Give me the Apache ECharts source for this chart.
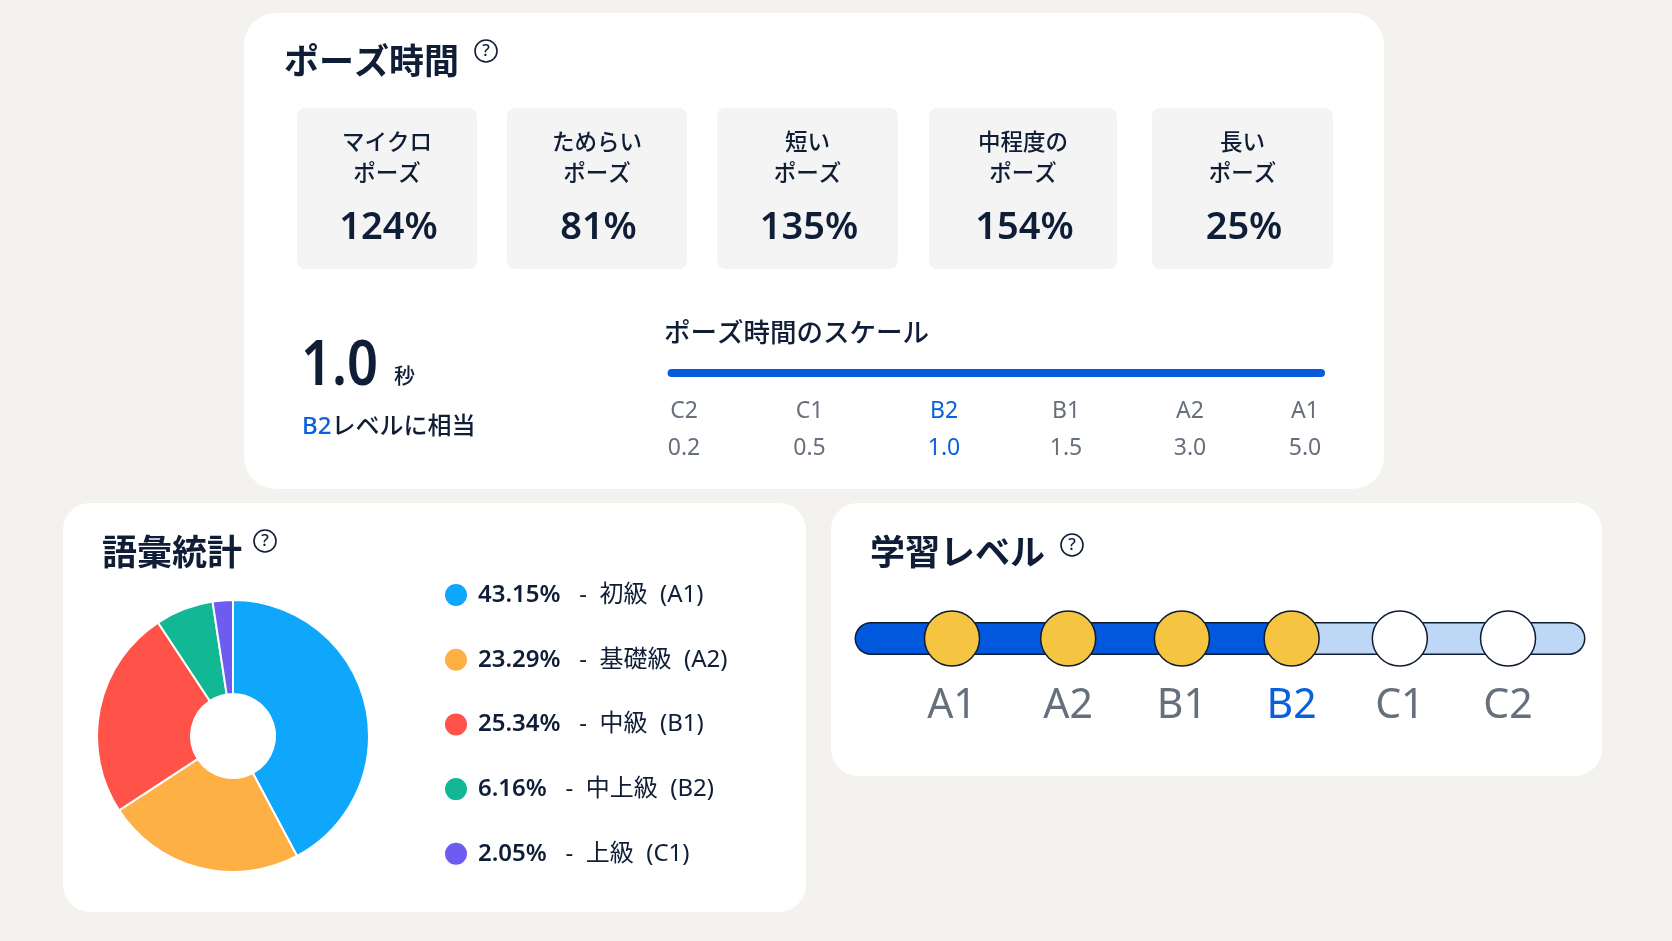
<!DOCTYPE html>
<html><head><meta charset="utf-8">
<style>html,body{margin:0;padding:0;background:#f4f2ef}#c{width:1672px;height:941px}</style>
<script src="https://cdn.jsdelivr.net/npm/echarts@6/dist/echarts.min.js"></script>
</head><body><div id="c"></div>
<script>
// ---- data ----
const pauseLabels = ['マイクロ\nポーズ','ためらい\nポーズ','短い\nポーズ','中程度の\nポーズ','長い\nポーズ'];
const pausePercents = ['124%','81%','135%','154%','25%'];
const pauseSeconds = '1.0';
const pauseLevel = 'B2';
const scaleLevels = ['C2','C1','B2','B1','A2','A1'];
const scaleSeconds = ['0.2','0.5','1.0','1.5','3.0','5.0'];
const vocabNames = ['初級 (A1)','基礎級 (A2)','中級 (B1)','中上級 (B2)','上級 (C1)'];
const vocabPercents = ['43.15','23.29','25.34','6.16','2.05'];   // as printed in the legend
const vocabSliceShares = [42.2,23.6,24.9,6.9,2.4];
const learnLevels = ['A1','A2','B1','B2','C1','C2'];
const reachedLevel = 'B2';

// ---- styling and layout ----
const FONT = '"Noto Sans","Noto Sans CJK JP",sans-serif';
const INK = '#0f1d36', GREY = '#66707c', BLUE = '#0a5fdc';
const vocabColors = ['#0ea7fb','#ffb044','#ff5249','#12b894','#6c5cf2'];
const scaleNudge = [0,1.5,12,10,10,1];
const learnNudge = [0,5,7.5,6,3,0];
const boxes = [[297,180],[507,180],[717,181],[929,188],[1152,181]];
const cards = [[244,13,1140,476,32],[63,503,743,409,27],[831,503,771,273,27]];
const helps = [[486,51],[265,541],[1072,545]];
const titles = [['ポーズ時間',284,64],['語彙統計',102,555],['学習レベル',870,555]];

const graphic = [];
cards.forEach(c => graphic.push({type:'rect',shape:{x:c[0],y:c[1],width:c[2],height:c[3],r:c[4]},style:{fill:'#fff'}}));
boxes.forEach((b,i) => {
  graphic.push({type:'rect',shape:{x:b[0],y:108,width:b[1],height:161,r:8},style:{fill:'#f4f4f4'}});
  graphic.push({type:'text',style:{text:pauseLabels[i],x:b[0]+b[1]/2,y:159.5,align:'center',verticalAlign:'middle',
    font:'500 22.5px '+FONT,fill:INK,lineHeight:31}});
  graphic.push({type:'text',style:{text:pausePercents[i],x:b[0]+b[1]/2+1.5,y:228,align:'center',verticalAlign:'middle',
    font:'600 38px '+FONT,fill:INK}});
});
titles.forEach(t => graphic.push({type:'text',style:{text:t[0],x:t[1],y:t[2],verticalAlign:'middle',font:'600 35px '+FONT,fill:INK}}));
helps.forEach(h => {
  graphic.push({type:'circle',shape:{cx:h[0],cy:h[1],r:11},style:{fill:'none',stroke:INK,lineWidth:1.6}});
  graphic.push({type:'text',style:{text:'?',x:h[0],y:h[1],align:'center',verticalAlign:'middle',font:'500 17px '+FONT,fill:INK}});
});
graphic.push({type:'text',x:301,y:367,scaleX:0.86,style:{text:pauseSeconds,x:0,y:0,verticalAlign:'middle',font:'600 63px '+FONT,fill:INK}});
graphic.push({type:'text',style:{text:'秒',x:394,y:377,verticalAlign:'middle',font:'500 21px '+FONT,fill:INK}});
graphic.push({type:'text',style:{text:'{a|'+pauseLevel+'}{b|レベルに相当}',x:302,y:427,verticalAlign:'middle',
  rich:{a:{font:'500 24px '+FONT,fill:BLUE,color:BLUE},b:{font:'500 24px '+FONT,fill:INK,color:INK}}}});
graphic.push({type:'text',style:{text:'ポーズ時間のスケール',x:664,y:334,verticalAlign:'middle',font:'500 26.5px '+FONT,fill:INK}});

const yHidden = {type:'value',min:-1,max:1,show:false};
const option = {
  animation:false,
  backgroundColor:'#f4f2ef',
  graphic,
  grid:[
    {left:667.5,top:369,width:657.5,height:8},
    {left:855,top:623,width:730,height:31}
  ],
  xAxis:[
    {type:'value',gridIndex:0,min:-0.133,max:5.169,show:false},
    {type:'value',gridIndex:1,min:-0.872,max:5.692,show:false}
  ],
  yAxis:[Object.assign({gridIndex:0},yHidden),Object.assign({gridIndex:1},yHidden)],
  legend:{
    left:438,top:577,orient:'vertical',icon:'circle',itemWidth:24,itemHeight:24,itemGap:38.7,
    selectedMode:false,data:vocabNames,
    formatter:n => {const i=vocabNames.indexOf(n);return '{p|'+vocabPercents[i]+'%}{n|   -  '+n.replace(' ','  ')+'}';},
    textStyle:{rich:{
      p:{fontFamily:FONT,fontSize:24,fontWeight:600,color:INK,padding:[0,0,0,5],height:30},
      n:{fontFamily:FONT,fontSize:24,fontWeight:400,color:INK,height:30}
    }}
  },
  series:[
    {type:'pie',center:[233,736],radius:[42,136],startAngle:90,silent:true,label:{show:false},labelLine:{show:false},
     itemStyle:{borderColor:'#fff',borderWidth:2},
     data:vocabNames.map((n,i)=>({name:n,value:vocabSliceShares[i],itemStyle:{color:vocabColors[i]}}))},
    // pause-time scale
    {type:'line',xAxisIndex:0,yAxisIndex:0,showSymbol:false,silent:true,
     lineStyle:{color:'#0a5adf',width:8,cap:'round'},data:[[-0.1,0],[5.137,0]]},
    {type:'scatter',xAxisIndex:0,yAxisIndex:0,symbolSize:1,silent:true,itemStyle:{color:'transparent',opacity:1},
     data:scaleLevels.map((l,i)=>({value:[i,0],label:{
       show:true,position:'bottom',distance:19,offset:[scaleNudge[i],0],
       formatter:l+'\n'+scaleSeconds[i],fontFamily:FONT,fontSize:23,lineHeight:37,
       color:l===pauseLevel?BLUE:GREY}}))},
    // learning-level track
    {type:'line',xAxisIndex:1,yAxisIndex:1,showSymbol:false,silent:true,z:2,
     lineStyle:{color:'#0d1b33',width:33,cap:'round'},data:[[-0.728,0],[5.548,0]]},
    {type:'line',xAxisIndex:1,yAxisIndex:1,showSymbol:false,silent:true,z:3,
     lineStyle:{color:'#bfd7f6',width:30,cap:'round'},data:[[learnLevels.indexOf(reachedLevel),0],[5.548,0]]},
    {type:'line',xAxisIndex:1,yAxisIndex:1,showSymbol:false,silent:true,z:4,
     lineStyle:{color:'#0058dc',width:30,cap:'round'},data:[[-0.728,0],[learnLevels.indexOf(reachedLevel),0]]},
    {type:'scatter',xAxisIndex:1,yAxisIndex:1,symbolSize:55,silent:true,z:5,
     data:learnLevels.map((l,i)=>({value:[i,0],symbolOffset:[learnNudge[i],0],
       itemStyle:{opacity:1,color:i<=learnLevels.indexOf(reachedLevel)?'#f5c542':'#ffffff',borderColor:'#0d1b33',borderWidth:1.5},
       label:{show:true,position:'bottom',distance:19,formatter:l,fontFamily:FONT,fontSize:41,
         color:l===reachedLevel?BLUE:GREY}}))}
  ]
};
echarts.init(document.getElementById('c')).setOption(option);
</script></body></html>
